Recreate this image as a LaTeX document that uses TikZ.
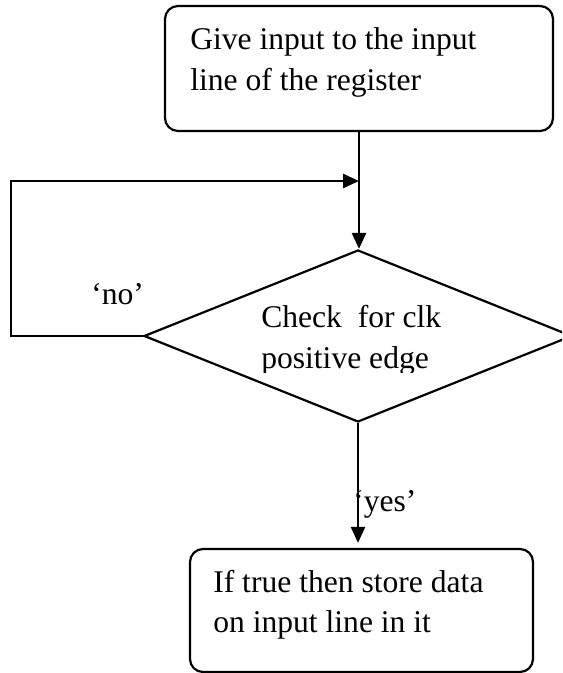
\documentclass[tikz,border=0pt]{standalone}
\usepackage{fontspec}
\setmainfont{Liberation Serif}
\usetikzlibrary{shapes.geometric,arrows.meta}
\begin{document}
\begin{tikzpicture}[x=0.75pt,y=-0.75pt,
  outline/.style={draw=black,line width=1.65pt},
  procbox/.style={outline,rounded corners=9.75pt,inner sep=0pt},
  decision/.style={outline,shape=diamond,inner sep=0pt},
  flow/.style={line width=1.9pt,-{Triangle[length=12pt,width=10.5pt]}},
  txt/.style={anchor=base west,inner sep=0pt,font=\fontsize{23.7pt}{30.75pt}\selectfont}]
\useasboundingbox (0,0) rectangle (562,673);
\clip (0,0) rectangle (562,673);

% boxes and the decision
\node[procbox,minimum width=291pt,minimum height=93.75pt] (input) at (359,68.5) {};
\node[decision,minimum width=321pt,minimum height=129pt] (check) at (358,336) {};
\node[procbox,minimum width=257.25pt,minimum height=92.25pt] (store) at (361.5,610.5) {};

% texts
\node[txt] (t1) at (190,50) {Give input to the input};
\node[txt] (t2) at (190,91) {line of the register};
\node[txt] (t3) at (261,327) {Check~ for clk};
\begin{scope}
  \clip (140,250) rectangle (570,372);
  \node[txt] (t4) at (261,368) {positive edge};
\end{scope}
\node[txt] (t5) at (213,592) {If true then store data};
\node[txt] (t6) at (213,632) {on input line in it};
\node[txt] (no) at (91,304) {‘no’};
\node[txt] (yes) at (353,511) {‘yes’};

% connectors
\coordinate (loopcorner) at (11,181);
\draw[flow] (input.south) -- (input.south |- check.north);
\draw[flow] (check.west) -| (loopcorner) -- (loopcorner -| input.south);
\draw[flow,shorten >=3.75pt] (check.south) -- (check.south |- store.north);
\end{tikzpicture}
\end{document}
